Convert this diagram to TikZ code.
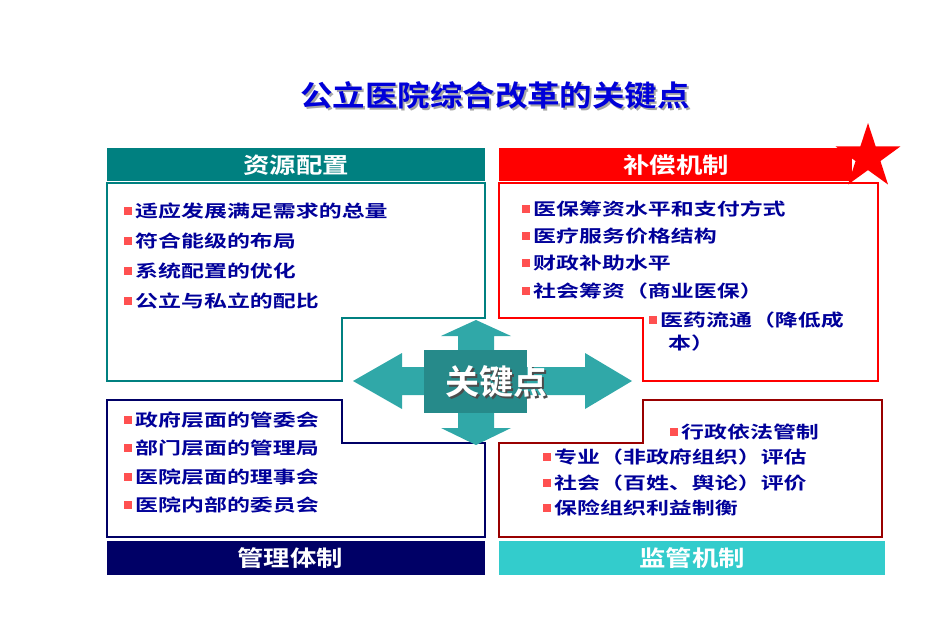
\documentclass[tikz,border=0pt]{standalone}
\usepackage{fontspec}
\usepackage{graphicx}
\setmainfont{Noto Sans CJK SC}
\newfontfamily\cjkb{Noto Sans CJK SC Bold}
\usetikzlibrary{shapes.geometric}
\definecolor{tealh}{HTML}{008080}
\definecolor{redh}{HTML}{FF0000}
\definecolor{navyh}{HTML}{000066}
\definecolor{cyanh}{HTML}{33CCCC}
\definecolor{itemc}{HTML}{000099}
\definecolor{brd}{HTML}{990000}
\definecolor{arr}{HTML}{30A8A8}
\definecolor{ctr}{HTML}{268A8A}
\definecolor{bul}{HTML}{FF5050}
\newcommand{\wide}[1]{\scalebox{1.35}[1]{#1}}
\tikzset{
  hdr/.style={text=white,font=\cjkb\fontsize{22}{24}\selectfont,inner sep=0},
  itm/.style={anchor=west,text=itemc,font=\cjkb\fontsize{17}{20}\selectfont,inner sep=0},
  bu/.style={fill=bul,minimum size=8pt,inner sep=0},
}
\newcommand{\itemat}[4]{\node[bu] (#1b) at (#2,#3) {}; \node[itm] (#1) at (#2+7,#3) {\wide{#4}};}
\begin{document}
\begin{tikzpicture}[x=1pt,y=-1pt]
\useasboundingbox (0,0) rectangle (950,634);
% title
\node[text=gray!70,font=\cjkb\fontsize{29}{30}\selectfont] (tsh) at (497,97) {\scalebox{1.12}[1]{公立医院综合改革的关键点}};
\node[text=blue!85!black,font=\cjkb\fontsize{29}{30}\selectfont] (title) at (495,95) {\scalebox{1.12}[1]{公立医院综合改革的关键点}};
% headers
\fill[tealh] (107,148) rectangle (485,181);
\fill[redh] (499,148) rectangle (852,181);
\fill[navyh] (107,541) rectangle (485,575);
\fill[cyanh] (499,541) rectangle (885,575);
\node[hdr] (h1) at (296,165) {\scalebox{1.2}[1]{资源配置}};
\node[hdr] (h2) at (676,165) {\scalebox{1.2}[1]{补偿机制}};
\node[hdr] (h3) at (290,558) {\scalebox{1.2}[1]{管理体制}};
\node[hdr] (h4) at (692,558) {\scalebox{1.2}[1]{监管机制}};
% boxes
\draw[tealh,line width=1.5pt] (107,183) -- (485,183) -- (485,318) -- (342,318) -- (342,381) -- (107,381) -- cycle;
\draw[redh,line width=1.5pt] (499,183) -- (878,183) -- (878,381) -- (643,381) -- (643,318) -- (499,318) -- cycle;
\draw[navyh,line width=1.5pt] (107,400) -- (342,400) -- (342,443) -- (485,443) -- (485,537) -- (107,537) -- cycle;
\draw[brd,line width=1.5pt] (643,400) -- (882,400) -- (882,537) -- (499,537) -- (499,443) -- (643,443) -- cycle;
% star
\node[star,star points=5,star point ratio=2.6,fill=redh,minimum size=68pt,inner sep=0] (st) at (868,157) {};
% center arrows
\fill[arr] (424,367) -- (402,367) -- (402,353) -- (353,381) -- (402,409) -- (402,395) -- (424,395) -- cycle;
\fill[arr] (527,367) -- (585,367) -- (585,353) -- (632,381) -- (585,409) -- (585,395) -- (527,395) -- cycle;
\fill[arr] (458,350) -- (458,336) -- (441,336) -- (476,320) -- (511,336) -- (494,336) -- (494,350) -- cycle;
\fill[arr] (458,413) -- (458,428) -- (441,428) -- (476,445) -- (511,428) -- (494,428) -- (494,413) -- cycle;
\fill[ctr] (424,350) rectangle (527,413);
\node[text=black!70,font=\cjkb\fontsize{34}{36}\selectfont] (ks) at (498,384) {关键点};
\node[text=white,font=\cjkb\fontsize{34}{36}\selectfont] (key) at (496,382) {关键点};
% items
\itemat{a1}{128}{211}{适应发展满足需求的总量}
\itemat{a2}{128}{241}{符合能级的布局}
\itemat{a3}{128}{271}{系统配置的优化}
\itemat{a4}{128}{301}{公立与私立的配比}
\itemat{b1}{526}{209}{医保筹资水平和支付方式}
\itemat{b2}{526}{236}{医疗服务价格结构}
\itemat{b3}{526}{263}{财政补助水平}
\itemat{b4}{526}{291}{社会筹资（商业医保）}
\itemat{b5}{653}{320}{医药流通（降低成}
\node[itm] (b6) at (668,343) {\wide{本）}};
\itemat{c1}{128}{420}{政府层面的管委会}
\itemat{c2}{128}{448}{部门层面的管理局}
\itemat{c3}{128}{477}{医院层面的理事会}
\itemat{c4}{128}{505}{医院内部的委员会}
\itemat{d1}{674}{432}{行政依法管制}
\itemat{d2}{547}{457}{专业（非政府组织）评估}
\itemat{d3}{547}{483}{社会（百姓、舆论）评价}
\itemat{d4}{547}{508}{保险组织利益制衡}
\end{tikzpicture}
\end{document}
